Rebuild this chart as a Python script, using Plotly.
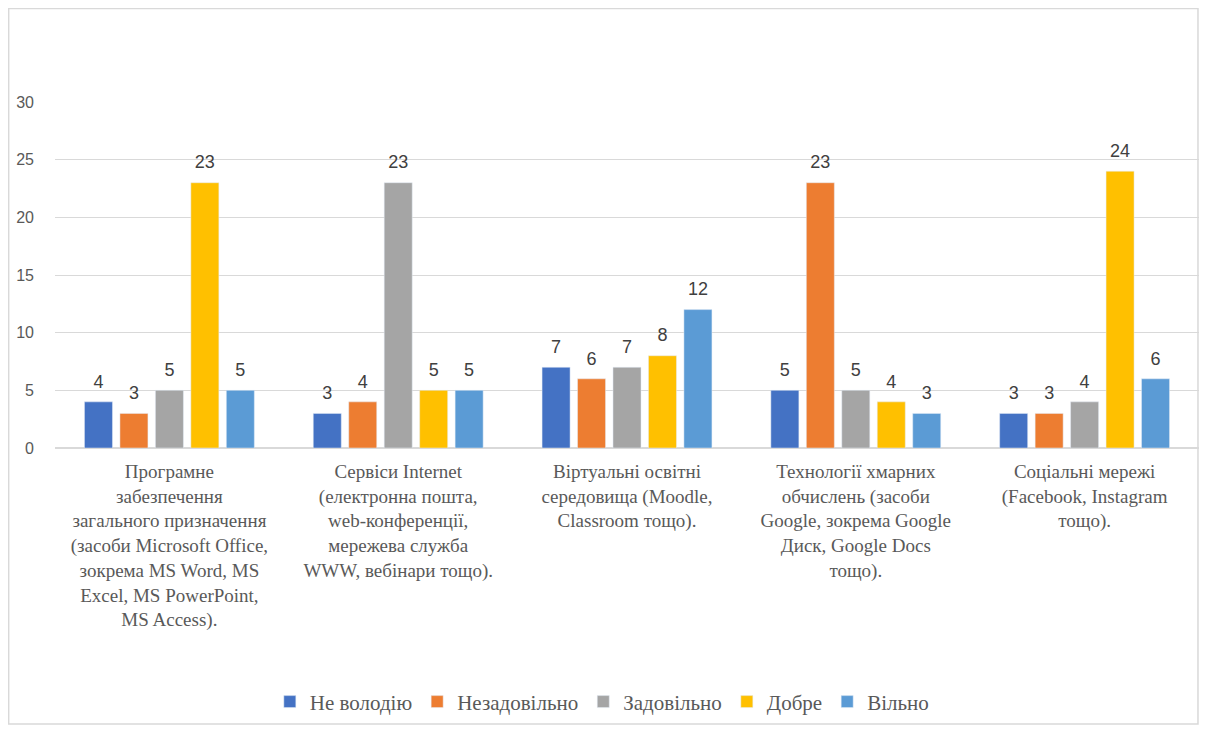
import plotly.graph_objects as go

categories = [
    "Програмне<br>забезпечення<br>загального призначення<br>(засоби Microsoft Office,<br>зокрема MS Word, MS<br>Excel, MS PowerPoint,<br>MS Access).",
    "Сервіси Internet<br>(електронна пошта,<br>web-конференції,<br>мережева служба<br>WWW, вебінари тощо).",
    "Віртуальні освітні<br>середовища (Moodle,<br>Classroom тощо).",
    "Технології хмарних<br>обчислень (засоби<br>Google, зокрема Google<br>Диск, Google Docs<br>тощо).",
    "Соціальні мережі<br>(Facebook, Instagram<br>тощо).",
]
series_names = ["Не володію", "Незадовільно", "Задовільно", "Добре", "Вільно"]
ne_volodiyu = [4, 3, 7, 5, 3]
nezadovilno = [3, 4, 6, 23, 3]
zadovilno = [5, 23, 7, 5, 4]
dobre = [23, 5, 8, 4, 24]
vilno = [5, 5, 12, 3, 6]
colors = ["#4472C4", "#ED7D31", "#A5A5A5", "#FFC000", "#5B9BD5"]
y_ticks = [0, 5, 10, 15, 20, 25, 30]

BARGAP = 0.225
all_series = [ne_volodiyu, nezadovilno, zadovilno, dobre, vilno]

fig = go.Figure()
for name, vals, col in zip(series_names, all_series, colors):
    fig.add_trace(go.Bar(x=categories, y=vals, name=name, marker_color=col))
for name, vals in zip(series_names, all_series):
    fig.add_trace(go.Scatter(
        x=categories, y=vals, mode="markers+text", text=vals,
        textposition="top center", showlegend=False, hoverinfo="skip",
        marker=dict(size=14, opacity=0), cliponaxis=False,
        textfont=dict(family="Liberation Sans", size=18, color="#404040"),
    ))

fig.update_layout(
    width=1191, height=717,
    font=dict(family="Liberation Serif", color="#595959"),
    paper_bgcolor="white", plot_bgcolor="white",
    barmode="group", bargap=BARGAP, bargroupgap=0.21,
    scattermode="group", scattergap=BARGAP,
    margin=dict(l=47, r=0, t=94, b=277),
    showlegend=True,
    legend=dict(orientation="h", x=0.478, xanchor="center", y=-0.734, yanchor="middle",
                font=dict(family="Liberation Serif", size=21, color="#595959"),
                traceorder="normal"),
    shapes=[dict(type="rect", xref="paper", yref="paper", x0=-0.0405, x1=0.9991, y0=-0.7977, y1=1.27,
                 line=dict(color="#d9d9d9", width=1.5), fillcolor="rgba(0,0,0,0)", layer="below")],
)
fig.update_yaxes(range=[0, 30], tickvals=y_ticks, showgrid=True, gridcolor="#d9d9d9", gridwidth=1,
                 zeroline=True, zerolinecolor="#d9d9d9", showline=False, ticks="",
                 ticklabelstandoff=20,
                 tickfont=dict(family="Liberation Sans", size=16, color="#595959"))
fig.update_xaxes(showline=False, ticks="", tickangle=0, ticklabelstandoff=10,
                 tickfont=dict(family="Liberation Serif", size=19, color="#595959"))

fig.write_html("out.html")
